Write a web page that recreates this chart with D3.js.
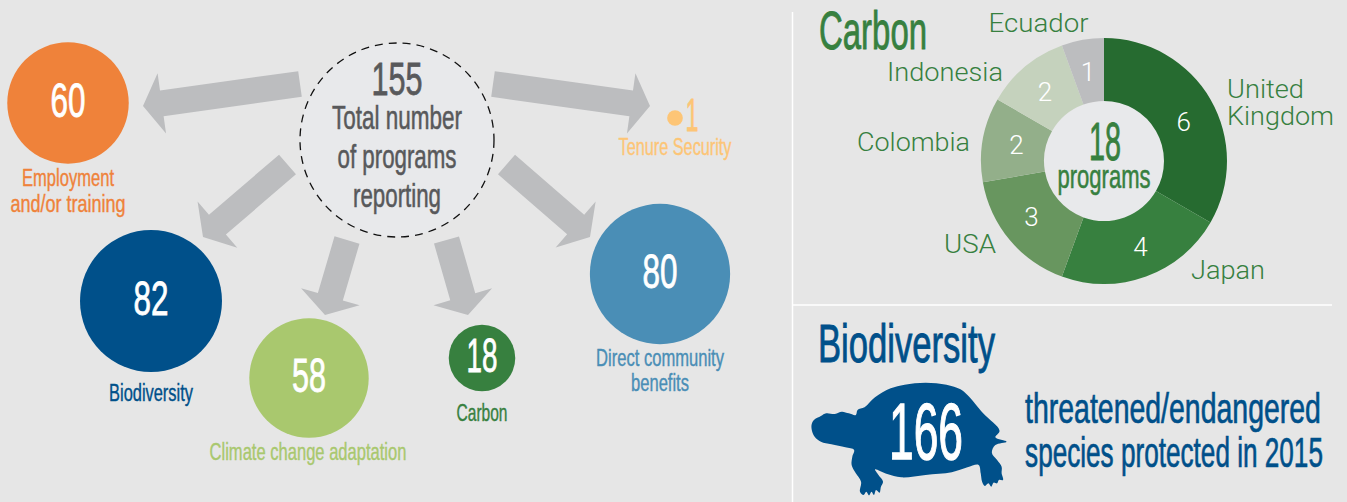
<!DOCTYPE html>
<html>
<head>
<meta charset="utf-8">
<script src="https://cdn.jsdelivr.net/npm/d3@7"></script>
<style>
  html, body { margin: 0; padding: 0; background: #e6e6e6; }
  svg { display: block; }
  text { font-family: "Liberation Sans Narrow", "Liberation Sans", sans-serif; text-anchor: middle; }
  .light { font-family: Roboto, "Liberation Sans", sans-serif; font-weight: 300; }
</style>
</head>
<body>
<svg id="chart" width="1347" height="502"></svg>
<script>
// Chart values
var programCategories = ['Employment', 'Biodiversity', 'Climate', 'Carbon', 'Direct', 'Tenure'];
var programCounts = [60, 82, 58, 18, 80, 1];
var programColors = ['#ef823a', '#00508a', '#a9c86e', '#37803f', '#4a8eb6', '#fdc576'];
var programTotal = 155;

var carbonCountries = ['United Kingdom', 'Japan', 'USA', 'Colombia', 'Indonesia', 'Ecuador'];
var carbonPrograms = [6, 4, 3, 2, 2, 1];
var carbonColors = ['#266b30', '#37803f', '#68965f', '#93af8a', '#c5d2bd', '#bcbdbf'];
var carbonTotal = 18;
var speciesProtected = 166;

var svg = d3.select('#chart');
var green = '#37803f', navy = '#00508a', grey = '#58595b';

// Condensed text: the narrow font is squeezed to a measured width and thickened a little
function label(x, y, str, size, color, width) {
    var t = svg.append('text')
        .attr('font-size', size)
        .attr('fill', color)
        .attr('stroke', color)
        .attr('stroke-width', size / 60)
        .text(str);
    var sx = width / t.node().getComputedTextLength();
    t.attr('transform', 'translate(' + x + ',' + y + ') scale(' + sx + ',1)');
    return t;
}

// Light text for the donut captions
function lightLabel(x, y, str, width) {
    var t = svg.append('text')
        .attr('class', 'light')
        .attr('font-size', 26)
        .attr('fill', green)
        .text(str);
    var sx = width / t.node().getComputedTextLength();
    t.attr('transform', 'translate(' + x + ',' + y + ') scale(' + sx + ',1)');
    return t;
}

/*****************************/
// Dividers
/*****************************/
svg.append('line').attr('x1', 792.5).attr('x2', 792.5).attr('y1', 12).attr('y2', 502)
    .attr('stroke', '#fff').attr('stroke-width', 1.5);
svg.append('line').attr('x1', 793).attr('x2', 1332).attr('y1', 305).attr('y2', 305)
    .attr('stroke', '#fff').attr('stroke-width', 1.5);

/*****************************/
// Bubbles
/*****************************/
var radius = d3.scaleSqrt().domain([0, 82]).range([0, 71]);
var bubbleX = d3.scaleOrdinal().domain(programCategories).range([68, 151, 309, 482, 660, 675]);
var bubbleY = d3.scaleOrdinal().domain(programCategories).range([103, 301, 378, 358, 274, 118]);

svg.selectAll('circle.bubble')
    .data(programCategories)
  .enter().append('circle')
    .attr('class', 'bubble')
    .attr('cx', function(d) { return bubbleX(d); })
    .attr('cy', function(d) { return bubbleY(d); })
    .attr('r', function(d, i) { return radius(programCounts[i]); })
    .attr('fill', function(d, i) { return programColors[i]; });

// Numbers in the bubbles
var numberWidth = [35, 35, 34, 31, 35];
programCategories.slice(0, 5).forEach(function(d, i) {
    label(bubbleX(d), bubbleY(d) + 14, programCounts[i], 49, '#fff', numberWidth[i]);
});
label(692, 131, programCounts[5], 46, programColors[5], 13);

// Bubble captions
label(68, 186, 'Employment', 24, programColors[0], 92);
label(68, 212, 'and/or training', 24, programColors[0], 115);
label(151, 401, 'Biodiversity', 24, programColors[1], 84);
label(308, 460, 'Climate change adaptation', 24, programColors[2], 197);
label(482, 421, 'Carbon', 24, programColors[3], 51);
label(660, 366, 'Direct community', 24, programColors[4], 128);
label(660, 391, 'benefits', 24, programColors[4], 58);
label(675, 155, 'Tenure Security', 24, programColors[5], 113);

/*****************************/
// Arrows out of the hub
/*****************************/
var arrowTails = [[300, 84], [287.5, 164.5], [347, 240], [446.5, 240], [506.5, 164.5], [493, 84]];
var arrowTips = [[143, 106], [203, 237], [325, 315], [468, 315], [590, 237], [650, 106]];
var shaftWidth = 26, headWidth = 61, headLength = 19;

function arrowPoints(tail, tip) {
    var dx = tip[0] - tail[0], dy = tip[1] - tail[1];
    var len = Math.sqrt(dx * dx + dy * dy);
    var ux = dx / len, uy = dy / len;
    var bx = tip[0] - ux * headLength, by = tip[1] - uy * headLength;
    function side(x, y, w) { return [x - uy * w / 2, y + ux * w / 2]; }
    return [
        side(tail[0], tail[1], shaftWidth),
        side(bx, by, shaftWidth),
        side(bx, by, headWidth),
        tip,
        side(bx, by, -headWidth),
        side(bx, by, -shaftWidth),
        side(tail[0], tail[1], -shaftWidth)
    ];
}

svg.selectAll('polygon.arrow')
    .data(arrowTails)
  .enter().append('polygon')
    .attr('class', 'arrow')
    .attr('fill', '#bcbdbf')
    .attr('points', function(d, i) { return arrowPoints(d, arrowTips[i]).join(' '); });

/*****************************/
// Hub
/*****************************/
svg.append('circle')
    .attr('cx', 397).attr('cy', 140).attr('r', 97)
    .attr('fill', '#e8e9eb')
    .attr('stroke', '#111').attr('stroke-width', 1.3)
    .attr('stroke-dasharray', '8 6');

label(397, 95, programTotal, 47, grey, 51);
label(397, 129, 'Total number', 33, grey, 130);
label(397, 168, 'of programs', 33, grey, 119);
label(397, 207, 'reporting', 33, grey, 88);

/*****************************/
// Carbon donut
/*****************************/
label(873, 49, 'Carbon', 54, green, 108);

var pie = d3.pie().sort(null).value(function(d) { return d; });
var arc = d3.arc().innerRadius(60).outerRadius(123);
var labelArc = d3.arc().innerRadius(92).outerRadius(92);
var valueNudge = [[0, 7], [5, -1], [-2, -4], [3, 0], [0, 1], [0, 1]];

var donut = svg.append('g').attr('transform', 'translate(1104,161)');
var slices = pie(carbonPrograms);

donut.append('circle').attr('r', 60).attr('fill', '#e8e9eb');

donut.selectAll('path')
    .data(slices)
  .enter().append('path')
    .attr('d', arc)
    .attr('fill', function(d, i) { return carbonColors[i]; });

donut.selectAll('text')
    .data(slices)
  .enter().append('text')
    .attr('class', 'light')
    .attr('transform', function(d, i) {
        var c = labelArc.centroid(d);
        return 'translate(' + (c[0] + valueNudge[i][0]) + ',' + (c[1] + valueNudge[i][1]) + ')';
    })
    .attr('dy', '0.36em')
    .attr('font-size', 26)
    .attr('fill', '#fff')
    .text(function(d) { return d.value; });

label(1105, 160, carbonTotal, 53, green, 32);
label(1104, 188, 'programs', 33, green, 93);

lightLabel(1038.5, 32, 'Ecuador', 100);
lightLabel(945, 81, 'Indonesia', 116);
lightLabel(913.5, 151, 'Colombia', 113);
lightLabel(970, 253, 'USA', 52);
lightLabel(1228, 279, 'Japan', 74);
lightLabel(1265.5, 98, 'United', 77);
lightLabel(1280.5, 125, 'Kingdom', 107);

/*****************************/
// Biodiversity turtle
/*****************************/
label(906.5, 362, 'Biodiversity', 54, navy, 177);

var turtleOutline = [
    [33, 345], [40, 330], [60, 318], [75, 310], [100, 312], [120, 305], [140, 310], [160, 315],
    [165, 300], [185, 292], [215, 262], [260, 235], [300, 224], [360, 218], [420, 224], [460, 238],
    [480, 255], [525, 310], [572, 362], [560, 382], [592, 395], [560, 405], [550, 428], [565, 450],
    [578, 470], [578, 490], [582, 510], [570, 510], [565, 520], [555, 518], [548, 530], [540, 520],
    [530, 528], [522, 515], [518, 490], [512, 465], [480, 472], [435, 487], [360, 495], [290, 502],
    [250, 492], [215, 478], [225, 495], [238, 515], [232, 530], [228, 548], [218, 540], [212, 555],
    [205, 545], [198, 556], [190, 545], [182, 555], [172, 545], [175, 515], [160, 490], [148, 465],
    [150, 440], [155, 420], [130, 412], [90, 403], [60, 395], [42, 380], [35, 365]
];
var turtleX = d3.scaleLinear().domain([0, 1568]).range([800, 1347]);
var turtleY = d3.scaleLinear().domain([0, 576]).range([310, 502]);
var turtleLine = d3.line()
    .x(function(d) { return turtleX(d[0]); })
    .y(function(d) { return turtleY(d[1]); })
    .curve(d3.curveCatmullRomClosed.alpha(0.5));

svg.append('path').attr('d', turtleLine(turtleOutline)).attr('fill', navy);

label(926, 459, speciesProtected, 80, '#fff', 74);
label(1173, 423, 'threatened/endangered', 42, navy, 296);
label(1174, 467, 'species protected in 2015', 42, navy, 298);
</script>
</body>
</html>
